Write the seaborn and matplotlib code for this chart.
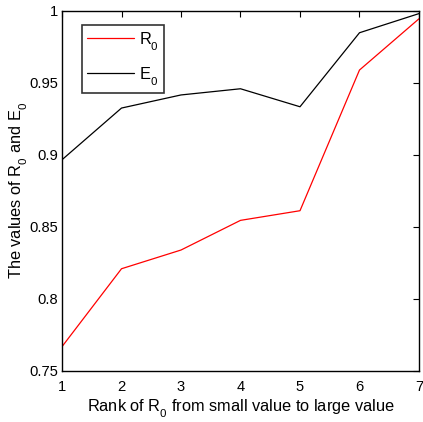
import numpy as np
import pandas as pd
import matplotlib
matplotlib.use("Agg")
import matplotlib.pyplot as plt
import seaborn as sns
try:
    import matplotlib._mathtext as _mt
    _mt.FontConstantsBase.sub1 = 0.75
    _mt.FontConstantsBase.sub2 = 0.9
except Exception:
    pass

rank = [1, 2, 3, 4, 5, 6, 7]
r0_values = [0.7667, 0.8208, 0.8338, 0.8544, 0.8611, 0.9588, 0.9944]
e0_values = [0.8965, 0.9324, 0.9415, 0.9458, 0.9333, 0.9847, 0.9980]
series_labels = [r"$\mathregular{R_0}$", r"$\mathregular{E_0}$"]
x_ticks = [1, 2, 3, 4, 5, 6, 7]
y_ticks = [0.75, 0.8, 0.85, 0.9, 0.95, 1.0]
y_tick_labels = ["0.75", "0.8", "0.85", "0.9", "0.95", "1"]

sns.set_style("white")
plt.rcParams["font.family"] = ["Liberation Sans", "DejaVu Sans"]
plt.rcParams["mathtext.fontset"] = "custom"
plt.rcParams["mathtext.rm"] = "Liberation Sans"
plt.rcParams["text.color"] = "black"
plt.rcParams["axes.labelcolor"] = "black"

df = pd.DataFrame({
    "rank": rank * 2,
    "value": r0_values + e0_values,
    "series": [series_labels[0]] * len(rank) + [series_labels[1]] * len(rank),
})

fs = 11.8
fig = plt.figure(figsize=(4.23, 4.22), dpi=100)
ax = fig.add_axes([0.1466, 0.1216, 0.8439, 0.853])
sns.lineplot(data=df, x="rank", y="value", hue="series",
             palette={series_labels[0]: "#ff0000", series_labels[1]: "#000000"},
             linewidth=0.9, ax=ax)

ax.set_xlim(1, 7)
ax.set_ylim(0.75, 1.0)
ax.set_xticks(x_ticks)
ax.set_yticks(y_ticks)
ax.set_yticklabels(y_tick_labels)
ax.tick_params(direction="in", length=4, width=0.8, top=True, right=True,
               labelsize=10.6, colors="black")
ax.tick_params(axis="y", pad=3)
ax.tick_params(axis="x", pad=7)
for s in ax.spines.values():
    s.set_color("black")
    s.set_linewidth(1.0)
ax.set_xlabel(r"Rank of $\mathregular{R_0}$ from small value to large value", fontsize=fs, labelpad=2)
ax.set_ylabel(r"The values of $\mathregular{R_0}$ and $\mathregular{E_0}$", fontsize=fs, labelpad=-1)

leg = ax.legend(loc="upper left", bbox_to_anchor=(0.056, 0.96), fontsize=fs,
                frameon=True, fancybox=False, handlelength=2.85, handletextpad=0.35,
                borderpad=0.3, labelspacing=0.75, title=None, borderaxespad=0)
leg.get_frame().set_edgecolor("black")
leg.get_frame().set_linewidth(1.2)

fig.savefig("out.png", dpi=100)
